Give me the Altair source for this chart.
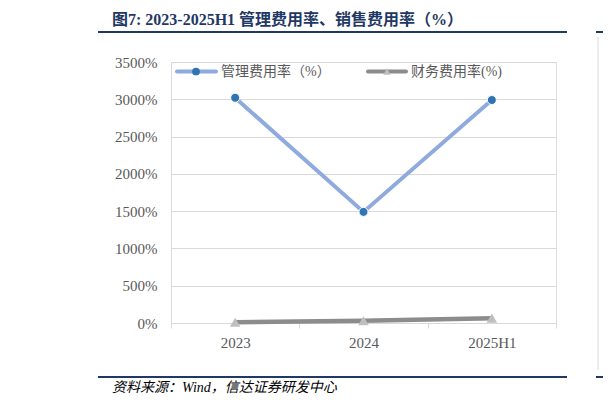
import pandas as pd
import altair as alt

# values
years = ["2023", "2024", "2025H1"]
admin_rate = [3020, 1490, 2990]   # 管理费用率（%）
fin_rate = [10, 30, 65]           # 财务费用率(%)
y_ticks = [0, 500, 1000, 1500, 2000, 2500, 3000, 3500]

title_text = "图7: 2023-2025H1 管理费用率、销售费用率（%）"
source_text = "资料来源：Wind，信达证券研发中心"
admin_name = "管理费用率（%）"
fin_name = "财务费用率(%)"

SERIF = "'Liberation Serif', 'Noto Sans CJK SC'"
NAVY = "#1F3864"
GRID = "#D9D9D9"
BLUE_LINE = "#8FAADC"
BLUE_DOT = "#2E75B6"
GRAY_LINE = "#8C8C8C"
GRAY_TRI = "#BFBFBF"

df = pd.DataFrame({
    "year": years * 2,
    "value": admin_rate + fin_rate,
    "series": [admin_name] * 3 + [fin_name] * 3,
})

x_enc = alt.X(
    "year:N", sort=years, bandPosition=0.5, title=None,
    scale=alt.Scale(type="band", paddingInner=0, paddingOuter=0),
    axis=alt.Axis(labelAngle=0, labelFont=SERIF, labelFontSize=15, labelColor="#595959",
                  domainColor=GRID, tickColor=GRID, tickSize=5, tickBand="extent",
                  labelPadding=7, grid=False),
)
y_enc = alt.Y(
    "value:Q", title=None,
    scale=alt.Scale(domain=[0, 3500], nice=False),
    axis=alt.Axis(values=y_ticks, labelExpr="datum.value + '%'", labelFont=SERIF,
                  labelFontSize=15, labelColor="#595959", domainColor=GRID, ticks=False,
                  labelPadding=14, gridColor=GRID),
)

base = alt.Chart(df).encode(x=x_enc, y=y_enc)

admin_line = base.transform_filter(alt.datum.series == admin_name).mark_line(
    color=BLUE_LINE, strokeWidth=4)
admin_pts = base.transform_filter(alt.datum.series == admin_name).mark_point(
    shape="circle", filled=True, size=81, color=BLUE_DOT, stroke="white", strokeWidth=1, opacity=1)
fin_line = base.transform_filter(alt.datum.series == fin_name).mark_line(
    color=GRAY_LINE, strokeWidth=4.5)
fin_pts = base.transform_filter(alt.datum.series == fin_name).mark_point(
    shape="triangle-up", filled=True, size=110, color=GRAY_TRI, opacity=1)

# decorations (title, rules, source, hand-made legend)
one = alt.Chart(pd.DataFrame({"k": [0]}))

title = one.mark_text(text=title_text, align="left", baseline="middle", font=SERIF,
                      fontSize=16, fontWeight="bold", color=NAVY).encode(
    x=alt.value(-59), y=alt.value(-42))
top_rule = one.mark_rule(color=NAVY, strokeWidth=2).encode(
    x=alt.value(-73), x2=alt.value(396), y=alt.value(-30))
bot_rule = one.mark_rule(color=NAVY, strokeWidth=2).encode(
    x=alt.value(-73), x2=alt.value(396), y=alt.value(315))
source = one.mark_text(text=source_text, align="left", baseline="middle", font=SERIF,
                       fontSize=14, fontStyle="italic", color="#000000").encode(
    x=alt.value(-59), y=alt.value(326))

# piece of the neighbouring figure at the right edge
nb_top = one.mark_rule(color=NAVY, strokeWidth=2).encode(
    x=alt.value(425), x2=alt.value(432), y=alt.value(-30))
nb_bot = one.mark_rule(color=NAVY, strokeWidth=2).encode(
    x=alt.value(425), x2=alt.value(432), y=alt.value(315))
nb_frame = one.mark_rule(color=GRID, strokeWidth=1).encode(
    x=alt.value(427), y=alt.value(-25), y2=alt.value(308))

leg_y = 9.5
leg_blue_line = one.mark_rule(color=BLUE_LINE, strokeWidth=4, strokeCap="round").encode(
    x=alt.value(6), x2=alt.value(45), y=alt.value(leg_y))
leg_blue_dot = one.mark_point(shape="circle", filled=True, size=60, color=BLUE_DOT,
                              opacity=1).encode(x=alt.value(25), y=alt.value(leg_y))
leg_blue_txt = one.mark_text(text=admin_name, align="left", baseline="middle",
                             font=SERIF, fontSize=14, color="#595959").encode(
    x=alt.value(50), y=alt.value(leg_y))
leg_gray_line = one.mark_rule(color=GRAY_LINE, strokeWidth=4, strokeCap="round").encode(
    x=alt.value(197), x2=alt.value(235), y=alt.value(leg_y))
leg_gray_tri = one.mark_point(shape="triangle-up", filled=True, size=55, color=GRAY_TRI,
                              opacity=1).encode(x=alt.value(216), y=alt.value(leg_y))
leg_gray_txt = one.mark_text(text=fin_name, align="left", baseline="middle",
                             font=SERIF, fontSize=14, color="#595959").encode(
    x=alt.value(240), y=alt.value(leg_y))

chart = alt.layer(
    admin_line, fin_line, admin_pts, fin_pts,
    title, top_rule, bot_rule, source, nb_top, nb_bot, nb_frame,
    leg_blue_line, leg_blue_dot, leg_blue_txt, leg_gray_line, leg_gray_tri, leg_gray_txt,
).properties(
    width=385, height=261,
    autosize=alt.AutoSizeParams(type="none"),
    padding={"left": 163, "top": 54, "right": 47, "bottom": 76},
).configure_view(stroke=None).configure(background="white")

chart.save("out.html", embed_options={"renderer": "svg", "actions": False})
